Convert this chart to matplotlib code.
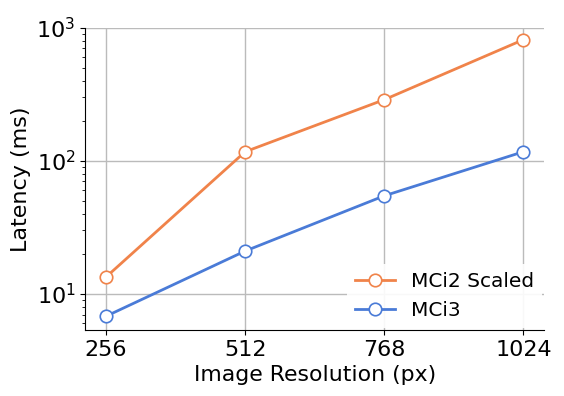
import matplotlib
matplotlib.use("Agg")
import matplotlib.pyplot as plt

resolutions = [256, 512, 768, 1024]
mci2_scaled = [13.4, 117, 288, 813]
mci3 = [6.8, 21, 54.6, 117]

fig, ax = plt.subplots(figsize=(5.64, 3.96), dpi=100)
ax.plot(resolutions, mci2_scaled, "-o", color="#f0834a", lw=2, ms=9,
        mfc="white", mew=1.2, label="MCi2 Scaled", zorder=3)
ax.plot(resolutions, mci3, "-o", color="#4a7bd7", lw=2, ms=9,
        mfc="white", mew=1.2, label="MCi3", zorder=3)

ax.set_yscale("log")
ax.set_ylim(5.37, 1000)
ax.set_xticks(resolutions)
ax.set_xticklabels([str(r) for r in resolutions])
ax.grid(True, color="#bbbbbb", lw=1)
ax.spines["top"].set_visible(False)
ax.spines["right"].set_visible(False)
ax.tick_params(labelsize=16)
ax.set_xlabel("Image Resolution (px)", fontsize=15.8)
ax.set_ylabel("Latency (ms)", fontsize=16)
leg = ax.legend(loc="lower right", fontsize=14.5, frameon=True, fancybox=False,
                edgecolor="none", framealpha=0.9, borderaxespad=0.1)

fig.subplots_adjust(left=0.151, right=0.965, top=0.93, bottom=0.167)
fig.savefig("out.png")
